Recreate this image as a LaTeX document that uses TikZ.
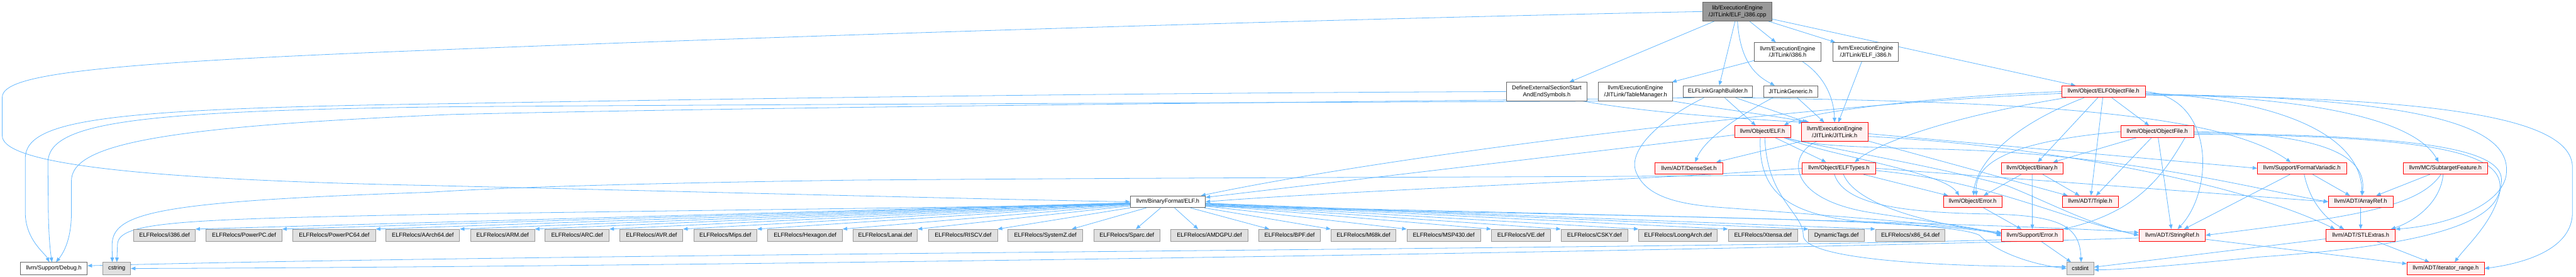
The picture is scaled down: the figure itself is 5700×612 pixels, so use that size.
\documentclass[tikz,border=0pt]{standalone}
\usepackage{fontspec}
\setmainfont{Liberation Sans}
\usetikzlibrary{arrows.meta}
\definecolor{edgecol}{HTML}{63B8FF}
\definecolor{redb}{HTML}{FF0000}
\definecolor{redf}{HTML}{FFF0F0}
\definecolor{grayf}{HTML}{E0E0E0}
\definecolor{grayb}{HTML}{999999}
\definecolor{wb}{HTML}{666666}
\definecolor{topf}{HTML}{999999}
\pgfdeclarelayer{bg}
\pgfsetlayers{bg,main}
\newcommand\defnode[4]{\node[gn, minimum width=#3, minimum height=26] (#1) at (#2,520) {ELFRelocs/#4.def};}
\begin{document}
\begin{tikzpicture}[x=1pt,y=-1pt,
  every node/.style={font=\fontsize{12.8}{15}\selectfont, inner sep=0pt, align=center},
  wn/.style={draw=wb, fill=white, line width=1.2pt},
  tn/.style={draw=wb, fill=topf, line width=1.2pt},
  rn/.style={draw=redb, fill=redf, line width=1.2pt},
  gn/.style={draw=grayb, fill=grayf, line width=1.2pt},
  edg/.style={draw=edgecol, line width=1.1pt, -{Triangle[length=10pt,width=8pt]}},
]
\useasboundingbox (0,0) rectangle (5700,612);
% ---------- nodes ----------
\node[tn, minimum width=153, minimum height=41] (T) at (3844.5,25.5) {lib/ExecutionEngine\\/JITLink/ELF\_i386.cpp};
\node[wn, minimum width=179, minimum height=41] (A) at (3422.5,202.5) {DefineExternalSectionStart\\AndEndSymbols.h};
\node[wn, minimum width=164, minimum height=41] (B) at (3619,202.5) {llvm/ExecutionEngine\\/JITLink/TableManager.h};
\node[wn, minimum width=154, minimum height=26] (C) at (3801,202.5) {ELFLinkGraphBuilder.h};
\node[wn, minimum width=120, minimum height=26] (D) at (3962,202.5) {JITLinkGeneric.h};
\node[wn, minimum width=147, minimum height=41] (E) at (3955.5,114.5) {llvm/ExecutionEngine\\/JITLink/i386.h};
\node[wn, minimum width=146, minimum height=41] (F) at (4128,114.5) {llvm/ExecutionEngine\\/JITLink/ELF\_i386.h};
\node[rn, minimum width=185, minimum height=26] (G) at (4654.5,202.5) {llvm/Object/ELFObjectFile.h};
\node[rn, minimum width=124, minimum height=26] (H) at (3900,291) {llvm/Object/ELF.h};
\node[rn, minimum width=147, minimum height=41] (J) at (4059.5,291.5) {llvm/ExecutionEngine\\/JITLink/JITLink.h};
\node[rn, minimum width=161, minimum height=26] (K) at (4773.5,291) {llvm/Object/ObjectFile.h};
\node[rn, minimum width=150, minimum height=26] (L) at (3737,372) {llvm/ADT/DenseSet.h};
\node[rn, minimum width=162, minimum height=26] (M) at (4069,372) {llvm/Object/ELFTypes.h};
\node[rn, minimum width=137, minimum height=26] (N) at (4496.5,372) {llvm/Object/Binary.h};
\node[rn, minimum width=197, minimum height=26] (O) at (5093.5,372) {llvm/Support/FormatVariadic.h};
\node[rn, minimum width=186, minimum height=26] (P) at (5411,372) {llvm/MC/SubtargetFeature.h};
\node[wn, minimum width=166, minimum height=26] (Q) at (2584,446) {llvm/BinaryFormat/ELF.h};
\node[rn, minimum width=130, minimum height=26] (R) at (4365,446) {llvm/Object/Error.h};
\node[rn, minimum width=124, minimum height=26] (S) at (4625,446) {llvm/ADT/Triple.h};
\node[rn, minimum width=143, minimum height=26] (U) at (5223.5,446) {llvm/ADT/ArrayRef.h};
\node[rn, minimum width=136, minimum height=26] (V) at (4497,520) {llvm/Support/Error.h};
\node[rn, minimum width=147, minimum height=26] (W) at (4806.5,520) {llvm/ADT/StringRef.h};
\node[rn, minimum width=153, minimum height=26] (X) at (5223.5,520) {llvm/ADT/STLExtras.h};
\node[wn, minimum width=148, minimum height=27] (Y) at (119,593.5) {llvm/Support/Debug.h};
\node[gn, minimum width=61, minimum height=27] (Z) at (258.5,593.5) {cstring};
\node[gn, minimum width=60, minimum height=27] (cstdint) at (4603,593.5) {cstdint};
\node[rn, minimum width=171, minimum height=27] (I) at (5411.5,593.5) {llvm/ADT/iterator\_range.h};
\defnode{d1}{364}{136}{i386}
\defnode{d2}{540}{168}{PowerPC}
\defnode{d3}{739.5}{183}{PowerPC64}
\defnode{d4}{935.5}{163}{AArch64}
\defnode{d5}{1112}{142}{ARM}
\defnode{d6}{1277}{142}{ARC}
\defnode{d7}{1441.5}{139}{AVR}
\defnode{d8}{1605}{140}{Mips}
\defnode{d9}{1781.5}{165}{Hexagon}
\defnode{d10}{1958.5}{143}{Lanai}
\defnode{d11}{2131}{152}{RISCV}
\defnode{d12}{2313}{166}{SystemZ}
\defnode{d13}{2493.5}{147}{Sparc}
\defnode{d14}{2676}{172}{AMDGPU}
\defnode{d15}{2853.5}{137}{BPF}
\defnode{d16}{3017}{144}{M68k}
\defnode{d17}{3194.5}{163}{MSP430}
\defnode{d18}{3365.5}{131}{VE}
\defnode{d19}{3528}{148}{CSKY}
\defnode{d20}{3713}{174}{LoongArch}
\defnode{d21}{3901}{154}{Xtensa}
\node[gn, minimum width=123, minimum height=26] (d22) at (4063.5,520) {DynamicTags.def};
\defnode{d23}{4227}{154}{x86\_64}
% ---------- edges ----------
\begin{pgfonlayer}{bg}
\fill[white] (0,0) rectangle (5700,612);
% T
\draw[edg] (T.west) .. controls (2800,45) and (1600,85) .. (950,111) .. controls (200,140) and (5,165) .. (5,215) -- (5,300) .. controls (5,350) and (200,395) .. (950,410) .. controls (1700,428) and (2300,443) .. (Q.west);
\draw[edg] (T) -- (A);
\draw[edg] (T) -- (C);
\draw[edg] (T.south) .. controls (3850,130) and (3880,165) .. ([xshift=-35]D.north);
\draw[edg] (T) -- (E);
\draw[edg] (T) -- (F);
\draw[edg] (T) -- (G);
% A
\draw[edg] ([xshift=-10]A.south east) .. controls (3650,250) and (3850,262) .. ([xshift=5]J.north west);
\draw[edg] (A.west) .. controls (2600,205) and (1800,215) .. (1000,229) .. controls (250,240) and (56,262) .. (56,350) -- (56,470) .. controls (56,530) and (100,560) .. ([xshift=-10]Y.north);
% B
\draw[edg] (B.south east) .. controls (3800,240) and (3900,252) .. ([xshift=18]J.north west);
\draw[edg] ([xshift=4]B.south west) .. controls (2800,227) and (1800,230) .. (1000,236) .. controls (300,245) and (106,270) .. (106,360) -- (107,470) .. controls (108,530) and (112,560) .. ([xshift=-4]Y.north);
% C
\draw[edg] ([xshift=26]C.south west) .. controls (3000,226) and (1800,234) .. (1000,253) .. controls (350,280) and (158,320) .. (158,400) -- (158,470) .. controls (158,530) and (140,560) .. ([xshift=5]Y.north);
\draw[edg] (C) -- (H);
\draw[edg] (C) -- (J);
\draw[edg] ([xshift=-25]C.south east) .. controls (4400,225) and (4900,240) .. ([xshift=-25]O.north);
\draw[edg] ([xshift=47]C.south west) .. controls (3680,260) and (3600,330) .. (3620,380) .. controls (3640,430) and (3700,450) .. (3800,458) .. controls (4100,480) and (4350,500) .. ([yshift=4]V.west);
% D
\draw[edg] (D) -- (J);
\draw[edg] ([xshift=21]D.south west) .. controls (3840,260) and (3770,310) .. ([xshift=14]L.north);
% E, F
\draw[edg] ([xshift=32]E.south) .. controls (4040,170) and (4058,220) .. (J.north);
\draw[edg] (E) -- (B);
\draw[edg] (F) -- (J);
% G
\draw[edg] (G.west) .. controls (4300,212) and (4000,245) .. ([xshift=-15]H.north east);
\draw[edg] ([yshift=-4]G.west) .. controls (4000,230) and (3100,340) .. ([xshift=-10]Q.north east);
\draw[edg] ([xshift=10]G.south west) .. controls (4300,260) and (4150,320) .. ([xshift=35]M.north);
\draw[edg] ([xshift=50]G.south west) .. controls (4420,290) and (4370,380) .. ([xshift=2]R.north);
\draw[edg] (G) -- (N);
\draw[edg] (G) -- (S);
\draw[edg] (G) -- (K);
\draw[edg] (G.east) .. controls (4900,215) and (4900,420) .. ([xshift=12]W.north);
\draw[edg] ([yshift=-3]G.east) .. controls (5050,220) and (5225,300) .. ([xshift=3]U.north);
\draw[edg] ([yshift=-5]G.east) .. controls (5100,215) and (5340,260) .. ([xshift=-15]P.north);
\draw[edg] ([yshift=-6]G.east) .. controls (5450,215) and (5560,300) .. (5545,390) .. controls (5530,460) and (5400,500) .. (X.north east);
\draw[edg] ([yshift=-8]G.east) .. controls (5400,215) and (5692,260) .. (5692,370) -- (5692,470) .. controls (5692,545) and (5600,580) .. (I.east);
% H
\draw[edg] (H) -- (Q);
\draw[edg] (H) -- (M);
\draw[edg] ([xshift=-15]H.south east) .. controls (4050,345) and (4300,380) .. ([xshift=-30]R.north);
\draw[edg] ([xshift=-8]H.south east) .. controls (4000,322) and (4100,325) .. (4300,330) .. controls (4700,340) and (5000,420) .. (U.west);
\draw[edg] ([xshift=-12]H.south east) .. controls (4050,330) and (4250,360) .. (4440,410) .. controls (4540,450) and (4620,495) .. (W.west);
\draw[edg] ([xshift=5]H.south) .. controls (3910,440) and (3990,470) .. (3990,520) .. controls (3990,575) and (4300,590) .. ([yshift=4]cstdint.west);
\draw[edg] ([xshift=-5]H.south) .. controls (3890,430) and (3960,480) .. (4150,492) .. controls (4300,500) and (4380,508) .. ([yshift=2]V.west);
% J
\draw[edg] (J.south west) -- ([xshift=-15]L.north east);
\draw[edg] (J) -- (S);
\draw[edg] ([yshift=-4]J.east) -- (O.west);
\draw[edg] ([yshift=-10]J.east) .. controls (4500,320) and (4950,400) .. ([xshift=20]X.north west);
\draw[edg] ([xshift=35]J.south west) .. controls (3955,340) and (3950,440) .. (4140,470) .. controls (4300,495) and (4390,505) .. ([yshift=-2]V.west);
% K
\draw[edg] (K) -- (W);
\draw[edg] (K) -- (N);
\draw[edg] (K) -- (S);
\draw[edg] (K.west) .. controls (4420,315) and (4370,370) .. ([xshift=8]R.north);
\draw[edg] ([xshift=-20]K.south east) .. controls (4780,400) and (4720,470) .. (V.north east);
\draw[edg] (K.east) .. controls (5100,295) and (5240,330) .. ([xshift=3]U.north);
\draw[edg] ([yshift=-3]K.east) .. controls (5300,300) and (5540,320) .. (5535,400) .. controls (5530,480) and (5460,540) .. ([xshift=20]I.north);
\draw[edg] ([yshift=-6]K.east) .. controls (5400,300) and (5550,340) .. (5530,425) .. controls (5510,500) and (5340,545) .. (5000,568) .. controls (4800,588) and (4700,596) .. ([yshift=-3]cstdint.east);
% M
\draw[edg] (M) -- (R);
\draw[edg] (M.east) -- (U.west);
\draw[edg] ([yshift=-5]M.east) .. controls (4400,400) and (4550,480) .. (W.west);
\draw[edg] (M.west) .. controls (3700,395) and (3000,420) .. (Q.east);
\draw[edg] ([xshift=10]M.south) .. controls (4110,460) and (4300,500) .. ([yshift=6]V.west);
\draw[edg] ([xshift=-10]M.south) .. controls (4080,450) and (4200,470) .. (4400,473) .. controls (4560,476) and (4602,500) .. ([xshift=2]cstdint.north);
\draw[edg] (M.south west) .. controls (3700,392) and (3000,390) .. (1900,398) .. controls (1400,405) and (1100,415) .. (950,425) .. controls (350,445) and (250,470) .. (248,540) -- ([xshift=-10]Z.north);
% N, R
\draw[edg] (N) -- (R);
\draw[edg] (N) -- (S);
\draw[edg] (N) -- (V);
\draw[edg] (R) -- (V);
% V
\draw[edg] (V) -- (cstdint);
\draw[edg] ([yshift=-10]V.west) .. controls (3800,550) and (1200,560) .. ([yshift=6]Y.east);
% W, X, U
\draw[edg] (W) -- (I);
\draw[edg] ([yshift=-6]W.west) .. controls (3800,556) and (1500,590) .. (Z.east);
\draw[edg] (X) -- (I);
\draw[edg] ([yshift=-8]X.west) -- ([yshift=3]cstdint.east);
\draw[edg] (U) -- (X);
% O
\draw[edg] (O) -- (U);
\draw[edg] (O) -- (W);
\draw[edg] ([xshift=5]O.south) .. controls (5110,440) and (5140,480) .. ([xshift=-37]X.north);
% P
\draw[edg] (P) -- (U);
\draw[edg] ([xshift=-5]P.south) .. controls (5400,450) and (5340,490) .. ([xshift=-10]X.north east);
\draw[edg] ([xshift=-10]P.south) .. controls (5350,460) and (5200,480) .. (W.east);
% Q
\foreach \n in {d1,d2,d3,d4,d5,d6,d7,d8,d9,d10,d11} {\draw[edg] (Q) -- (\n.north east);}
\draw[edg] (Q) -- ([xshift=-25]d12.north east);
\draw[edg] (Q) -- ([xshift=20]d13.north);
\draw[edg] (Q) -- ([xshift=-25]d14.north);
\draw[edg] (Q) -- ([xshift=24]d15.north west);
\foreach \n in {d16,d17,d18,d19,d20,d21,d22,d23} {\draw[edg] (Q) -- (\n.north west);}
\draw[edg] ([yshift=-8]Q.east) .. controls (3600,475) and (4500,497) .. ([yshift=6]W.west);
\draw[edg] ([yshift=-10]Q.east) .. controls (3600,480) and (4300,480) .. (4380,520) .. controls (4420,560) and (4500,585) .. (cstdint.west);
\draw[edg] ([yshift=-6]Q.west) .. controls (2000,460) and (1300,468) .. (950,474) .. controls (400,485) and (262,490) .. (260,540) -- (Z.north);
\end{pgfonlayer}
\end{tikzpicture}
\end{document}
